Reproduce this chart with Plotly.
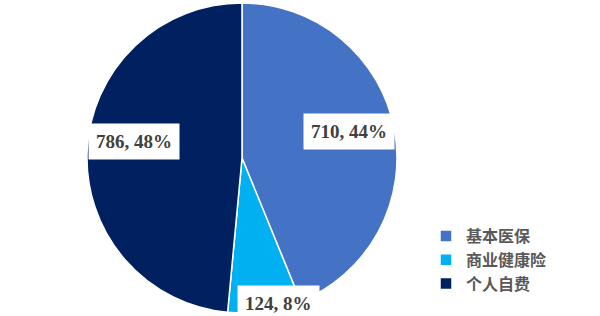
import math
import plotly.graph_objects as go

categories = ["基本医保", "商业健康险", "个人自费"]
values = [710, 124, 786]
pct_labels = ["44%", "8%", "48%"]
colors = ["#4472C4", "#00B0F0", "#002060"]

W, H = 600, 316
MT, MB = 3, 3
cx_px, r_px = 242, 155
dom_x = [(cx_px - r_px) / W, (cx_px + r_px) / W]

fig = go.Figure(go.Pie(
    labels=categories,
    values=values,
    sort=False,
    direction="clockwise",
    rotation=0,
    marker=dict(colors=colors, line=dict(color="white", width=1.5)),
    textinfo="none",
    hoverinfo="label+value+percent",
    domain=dict(x=dom_x, y=[0, 1]),
))

# data labels placed at slice mid-angles
label_frac = [0.68, 0.92, 0.74]
label_shift = [(4, 6), (16, -4), (7, 11)]
total = sum(values)
plot_h = H - MT - MB
cum = 0.0
for v, p, f, (xs, ys) in zip(values, pct_labels, label_frac, label_shift):
    mid = (cum + v / 2) / total * 2 * math.pi
    cum += v
    px = cx_px + f * r_px * math.sin(mid)
    py_up = plot_h / 2 + f * r_px * math.cos(mid)
    fig.add_annotation(
        x=px / W, y=py_up / plot_h, xref="paper", yref="paper",
        xanchor="center", yanchor="middle",
        text=f"<b>{v}, {p}</b>", showarrow=False,
        xshift=xs, yshift=ys,
        font=dict(family="Liberation Serif", size=19, color="#404040"),
        bgcolor="white", borderpad=7,
    )

fig.update_layout(
    width=W, height=H,
    margin=dict(l=0, r=0, t=MT, b=MB),
    paper_bgcolor="white",
    plot_bgcolor="white",
    showlegend=True,
    legend=dict(
        x=0.71, y=0.303, xanchor="left", yanchor="top",
        font=dict(family="Noto Sans CJK SC", size=16, color="#595959", weight=700),
        itemwidth=30, tracegroupgap=0,
        bgcolor="rgba(0,0,0,0)",
    ),
)

fig.write_html("out.html")
